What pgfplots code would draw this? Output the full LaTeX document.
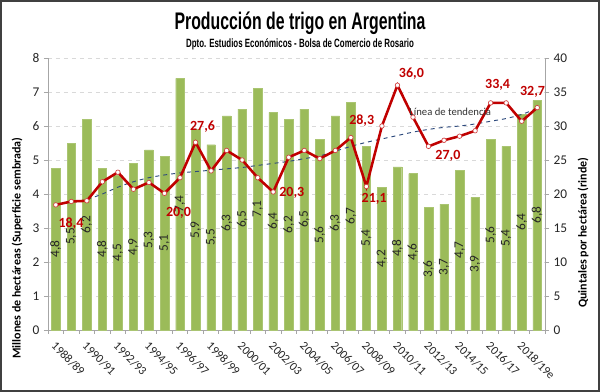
\documentclass[border=0pt]{standalone}
\usepackage{fontspec}
\setmainfont{Carlito}
\newfontfamily\titlefont[FakeStretch=0.66]{Liberation Sans}
\usepackage{pgfplots}
\pgfplotsset{compat=1.18}
\usepackage{pgfplotstable}
\definecolor{barg}{HTML}{9BBB59}
\definecolor{linered}{HTML}{C00000}
\definecolor{trendc}{HTML}{2E4A7D}
\definecolor{gridc}{HTML}{D9D9D9}
\definecolor{axisc}{HTML}{A6A6A6}
\definecolor{framec}{HTML}{404040}

\pgfplotstableread{
i a l r t
0 4.75 4.8 18.4 18.4
1 5.5 5.5 18.9 18.8
2 6.2 6.2 19.0 19.2
3 4.75 4.8 21.8 20.0
4 4.55 4.5 23.2 21.0
5 4.9 4.9 20.7 21.8
6 5.3 5.3 21.7 22.4
7 5.1 5.1 20.1 22.8
8 7.4 7.4 22.4 23.1
9 5.9 5.9 27.6 23.3
10 5.45 5.5 23.4 23.5
11 6.3 6.3 26.4 23.7
12 6.5 6.5 25.0 23.9
13 7.1 7.1 22.4 24.2
14 6.4 6.4 20.3 24.5
15 6.2 6.2 25.4 24.8
16 6.5 6.5 26.4 25.2
17 5.6 5.6 25.2 25.6
18 6.3 6.3 26.4 26.3
19 6.7 6.7 28.3 27.0
20 5.4 5.4 21.1 27.6
21 4.2 4.2 30.0 28.1
22 4.8 4.8 36.0 28.6
23 4.6 4.6 31.3 29.1
24 3.6 3.6 27.0 29.5
25 3.7 3.7 27.9 29.8
26 4.7 4.7 28.5 30.0
27 3.9 3.9 29.3 30.3
28 5.6 5.6 33.4 30.7
29 5.4 5.4 33.4 31.1
30 6.35 6.4 30.7 31.7
31 6.75 6.8 32.7 32.6
}\data

\begin{document}
\begin{tikzpicture}
\useasboundingbox (-36pt,-46.5pt) rectangle (414pt,247.5pt);
\fill[white] (-36pt,-46.5pt) rectangle (414pt,247.5pt);
\draw[framec, line width=1.5pt] (-35.25pt,-45.75pt) rectangle (413.25pt,246.75pt);

\begin{axis}[
  at={(0,0)}, anchor=south west,
  width=372.75pt, height=204pt, scale only axis,
  xmin=-0.5, xmax=31.5, ymin=0, ymax=8,
  axis y line*=left, axis x line*=bottom,
  axis line style={axisc, line width=0.6pt},
  ytick={0,1,...,8},
  ymajorgrids, grid style={gridc, dashed, line width=0.5pt},
  xtick={0,2,...,30},
  xticklabels={1988/89,1990/91,1992/93,1994/95,1996/97,1998/99,2000/01,2002/03,2004/05,2006/07,2008/09,2010/11,2012/13,2014/15,2016/17,2018/19e},
  minor xtick={-0.5,0.5,...,31.5},
  tick align=outside,
  major tick length=3pt, minor tick length=3pt,
  major x tick style={draw=none},
  tick style={axisc, line width=0.6pt},
  xticklabel style={rotate=-45, anchor=north west, font=\fontsize{9}{10}\selectfont, color=black!85, inner sep=1pt, xshift=3pt, yshift=-2pt},
  yticklabel style={font=\fontsize{10}{10}\selectfont, color=black!85},
  /pgf/number format/assume math mode=true,
  clip=false,
]
\addplot[ybar, bar width=0.55, fill=barg, draw=barg!85!white, line width=0.3pt] table[x=i, y=a] {\data};
\addplot[draw=none, mark=none, point meta=explicit,
  nodes near coords={\pgfmathprintnumber[fixed,fixed zerofill,precision=1,use comma,assume math mode=true]{\pgfplotspointmeta}},
  every node near coord/.append style={rotate=90, anchor=center, font=\fontsize{10}{10}\selectfont, color=black!85, inner sep=0pt}
] table[x=i, y expr=\thisrow{a}/2, meta=l] {\data};
\end{axis}

\begin{axis}[
  at={(0,0)}, anchor=south west,
  width=372.75pt, height=204pt, scale only axis,
  xmin=-0.5, xmax=31.5, ymin=0, ymax=40,
  axis y line*=right, axis x line=none,
  axis line style={axisc, line width=0.6pt},
  ytick={0,5,...,40},
  tick align=outside, major tick length=3pt,
  tick style={axisc, line width=0.6pt},
  yticklabel style={font=\fontsize{10}{10}\selectfont, color=black!85},
  /pgf/number format/assume math mode=true,
  clip=false,
]
\addplot[trendc, dashed, line width=0.7pt, smooth, mark=none] table[x=i, y=t] {\data};
\addplot[linered, line width=1.9pt, mark=*, mark size=1.7pt,
  mark options={fill=white, draw=linered!75!white, line width=0.5pt, solid}] table[x=i, y=r] {\data};
\begin{scope}[every node/.style={font=\bfseries\fontsize{10.5}{11}\selectfont, color=linered, inner sep=0pt}]
\node at (axis cs:0.98,15.6) {18,4};
\node at (axis cs:7.9,17.2) {20,0};
\node at (axis cs:9.45,29.9) {27,6};
\node at (axis cs:15.2,20.1) {20,3};
\node at (axis cs:19.7,30.8) {28,3};
\node at (axis cs:20.5,19.3) {21,1};
\node at (axis cs:22.9,37.75) {36,0};
\node at (axis cs:25.25,25.6) {27,0};
\node at (axis cs:28.45,36.0) {33,4};
\node at (axis cs:30.7,35.0) {32,7};
\end{scope}
\node[font=\fontsize{8}{8}\selectfont, color=black!80, inner sep=0pt] at (axis cs:25.4,32.1) {Línea de tendencia};
\end{axis}

\node[anchor=base, font=\titlefont\bfseries\fontsize{18}{20}\selectfont] at (189pt,225pt) {Producción de trigo en Argentina};
\node[anchor=base, font=\titlefont\bfseries\fontsize{9}{10}\selectfont] at (189pt,211.5pt) {Dpto. Estudios Económicos - Bolsa de Comercio de Rosario};
\node[rotate=90, font=\bfseries\fontsize{9}{10}\selectfont] at (-23.25pt,61.5pt) {Millones de hectáreas (Superficie sembrada)};
\node[rotate=90, font=\bfseries\fontsize{9}{10}\selectfont] at (401.25pt,73pt) {Quintales por hectárea (rinde)};
\end{tikzpicture}
\end{document}
